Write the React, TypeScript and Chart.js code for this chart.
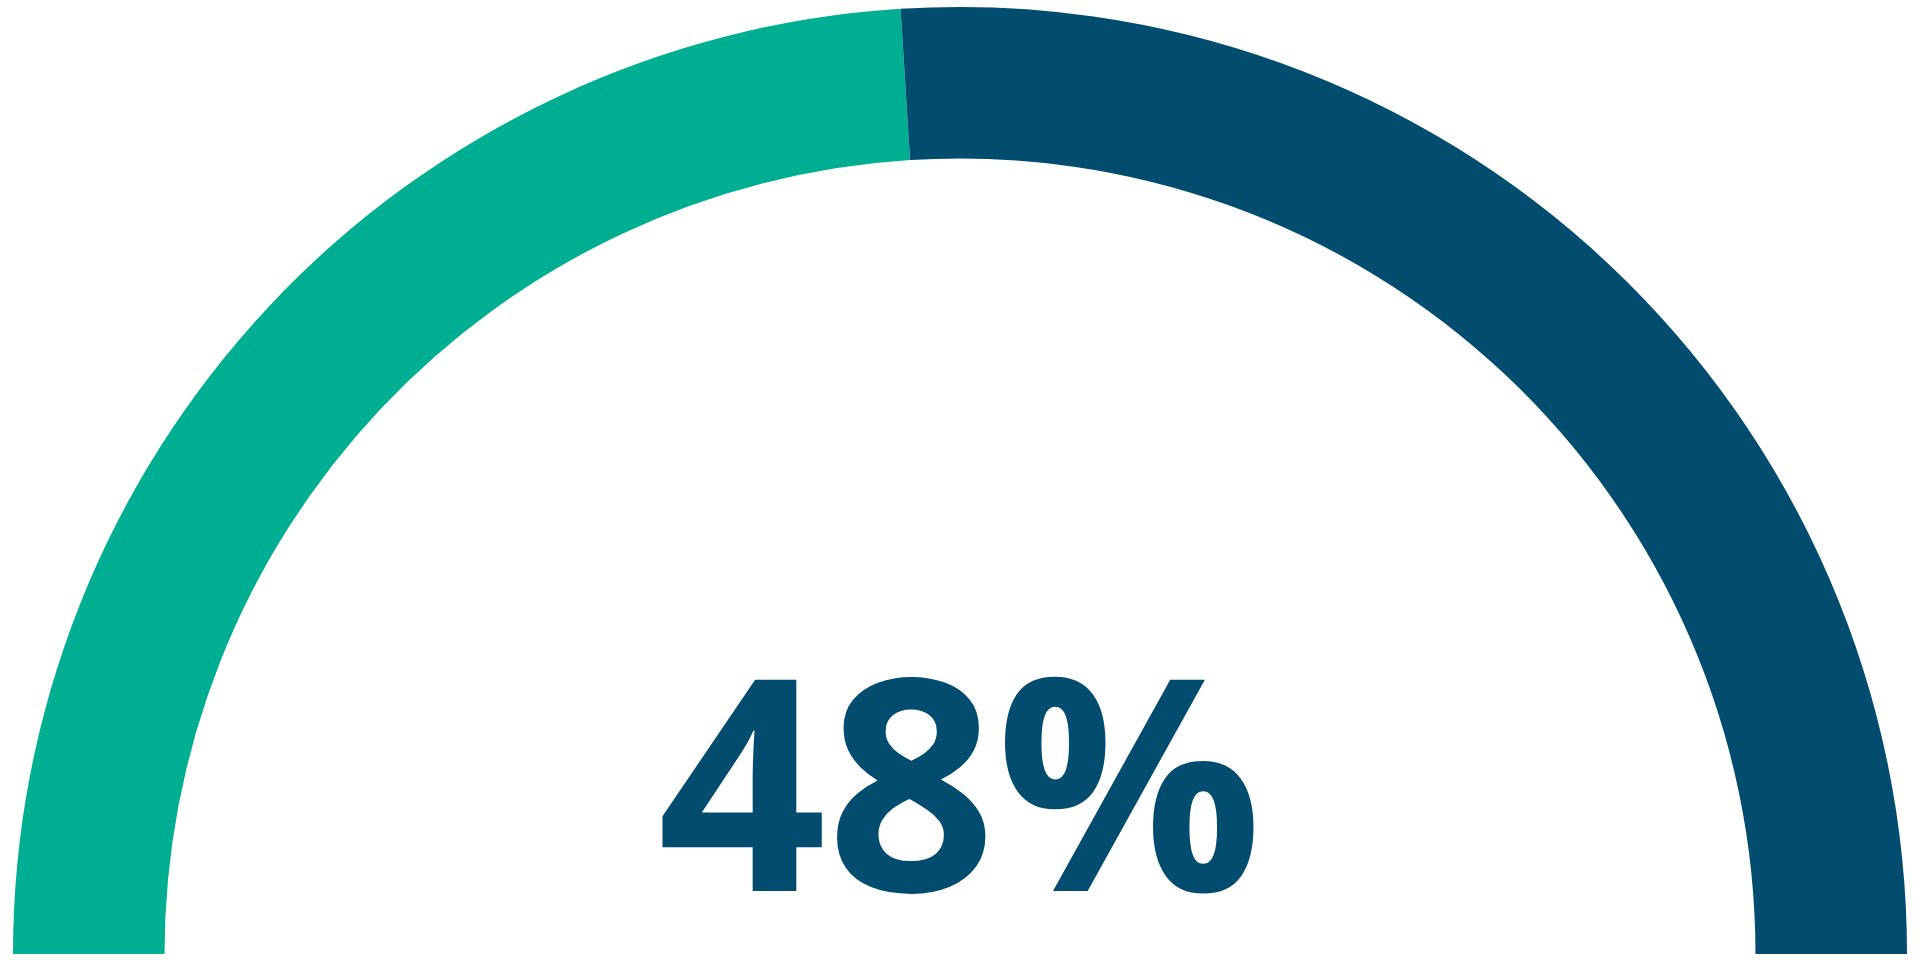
import { useEffect, useRef } from 'react';
import Chart from 'chart.js/auto';

const labels = ['Done', 'Remaining'];
const values = [48, 52];
const colors = ['#00ae92', '#024c6f'];
const centerText = '48%';

const centerLabel = {
    id: 'centerLabel',
    afterDraw(chart: Chart) {
        const meta = chart.getDatasetMeta(0);
        const arc: any = meta.data[0];
        if (!arc) return;
        const ctx = chart.ctx;
        ctx.save();
        ctx.font = 'bold 296px "Open Sans"';
        ctx.fillStyle = '#024c6f';
        ctx.textAlign = 'center';
        ctx.textBaseline = 'alphabetic';
        ctx.fillText(centerText, arc.x, arc.y - 63);
        ctx.restore();
    },
};

export default function App() {
    const canvasRef = useRef<HTMLCanvasElement | null>(null);
    const chartRef = useRef<Chart | null>(null);

    useEffect(() => {
        if (!canvasRef.current) return;
        chartRef.current?.destroy();
        chartRef.current = new Chart(canvasRef.current, {
            type: 'doughnut',
            data: {
                labels,
                datasets: [
                    {
                        data: values,
                        backgroundColor: colors,
                        borderWidth: 0,
                    },
                ],
            },
            options: {
                responsive: true,
                maintainAspectRatio: false,
                animation: false,
                rotation: -90,
                circumference: 180,
                cutout: '84%',
                layout: { padding: { left: 13, right: 13, top: 7, bottom: 6 } },
                plugins: {
                    legend: { display: false },
                    tooltip: { enabled: false },
                },
            },
            plugins: [centerLabel],
        });
        return () => chartRef.current?.destroy();
    }, []);

    return (
        <div style={{ position: 'absolute', left: 0, top: 0, width: 1920, height: 960, background: '#fff' }}>
            <canvas ref={canvasRef} />
        </div>
    );
}
